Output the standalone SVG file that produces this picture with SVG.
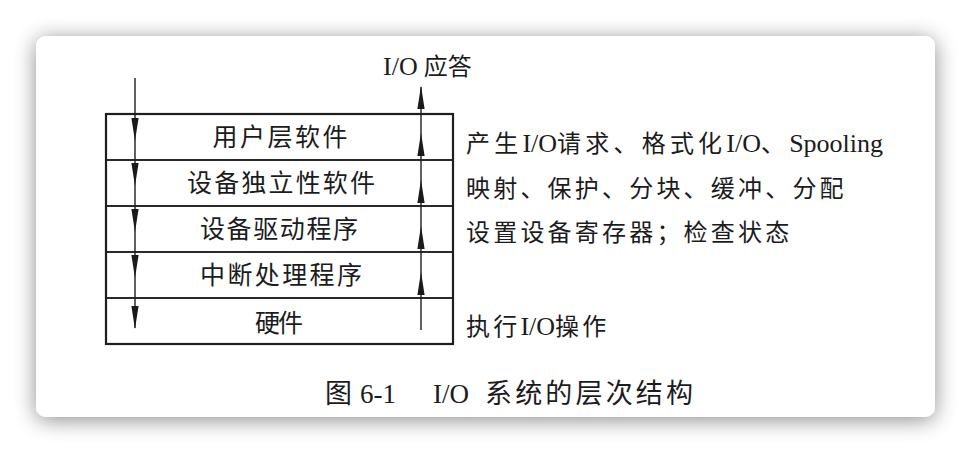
<svg xmlns="http://www.w3.org/2000/svg" width="972" height="454" viewBox="0 0 972 454">
  <defs>
    <filter id="shadow" x="-10%" y="-20%" width="120%" height="140%">
      <feGaussianBlur in="SourceAlpha" stdDeviation="11"/>
      <feOffset dx="0" dy="3" result="b"/>
      <feComponentTransfer><feFuncA type="linear" slope="0.45"/></feComponentTransfer>
      <feMerge><feMergeNode/><feMergeNode in="SourceGraphic"/></feMerge>
    </filter>
    <path id="headDown" d="M0,0 L-3.6,-23 L3.6,-23 Z"/>
    <path id="headUp" d="M0,0 L-3.6,23 L3.6,23 Z"/>
    <style>
      .row { fill: none; stroke: #222; stroke-width: 1.6; }
      .frame { fill: none; stroke: #1e1e1e; stroke-width: 2.2; }
      .t { font-family: "Liberation Serif", "Noto Sans CJK SC", serif; fill: #1c1c1c; }
      .lbl { font-size: 25px; text-anchor: middle; }
      .note { font-size: 24px; }
      .cj { letter-spacing: 3.2px; }
      .cj2 { letter-spacing: 4.2px; }
      .la { font-size: 26px; }
      .cap { font-size: 27px; }
      .wire { stroke: #1e1e1e; stroke-width: 1.4; fill: none; }
      .head { fill: #1a1a1a; }
    </style>
  </defs>
  <rect x="0" y="0" width="972" height="454" fill="#ffffff"/>
  <rect x="36" y="36" width="899" height="381" rx="10" ry="10" fill="#ffffff" filter="url(#shadow)"/>

  <g id="layers">
    <g id="user-software">
      <rect class="row" x="106" y="114" width="347" height="46"/>
      <text class="t lbl" x="280" y="146" textLength="135" lengthAdjust="spacing">用户层软件</text>
    </g>
    <g id="device-independent-software">
      <rect class="row" x="106" y="160" width="347" height="46"/>
      <text class="t lbl" x="281" y="192" textLength="188" lengthAdjust="spacing">设备独立性软件</text>
    </g>
    <g id="device-driver">
      <rect class="row" x="106" y="206" width="347" height="46"/>
      <text class="t lbl" x="279" y="238" textLength="158" lengthAdjust="spacing">设备驱动程序</text>
    </g>
    <g id="interrupt-handler">
      <rect class="row" x="106" y="252" width="347" height="46"/>
      <text class="t lbl" x="281" y="284" textLength="162" lengthAdjust="spacing">中断处理程序</text>
    </g>
    <g id="hardware">
      <rect class="row" x="106" y="298" width="347" height="46"/>
      <text class="t lbl" x="279" y="332" textLength="48" lengthAdjust="spacing">硬件</text>
    </g>
    <rect class="frame" x="106" y="114" width="347" height="230"/>
  </g>

  <g id="connectors">
    <line class="wire" x1="135" y1="78" x2="135" y2="328"/>
    <use href="#headDown" class="head" x="135" y="141"/>
    <use href="#headDown" class="head" x="135" y="186"/>
    <use href="#headDown" class="head" x="135" y="232"/>
    <use href="#headDown" class="head" x="135" y="278"/>
    <use href="#headDown" class="head" x="135" y="329"/>

    <line class="wire" x1="421" y1="87" x2="421" y2="330"/>
    <use href="#headUp" class="head" x="421" y="86"/>
    <use href="#headUp" class="head" x="421" y="133"/>
    <use href="#headUp" class="head" x="421" y="180"/>
    <use href="#headUp" class="head" x="421" y="226"/>
    <use href="#headUp" class="head" x="421" y="272"/>
  </g>

  <g id="annotations">
    <text class="t note" x="383" y="75"><tspan class="la">I/O</tspan> 应答</text>
    <text class="t note" x="466" y="152"><tspan class="cj2">产生</tspan><tspan class="la">I/O</tspan><tspan class="cj2">请求、格式化</tspan><tspan class="la">I/O</tspan><tspan class="cj2">、</tspan><tspan class="la">Spooling</tspan></text>
    <text class="t note cj" x="466" y="197">映射、保护、分块、缓冲、分配</text>
    <text class="t note cj" x="466" y="241">设置设备寄存器；检查状态</text>
    <text class="t note" x="466" y="335"><tspan class="cj">执行</tspan><tspan class="la">I/O</tspan><tspan class="cj">操作</tspan></text>
  </g>

  <g id="caption">
    <text class="t cap" x="325" y="403">图</text>
    <text class="t cap" x="360" y="403">6-1</text>
    <text class="t cap" x="433" y="403">I/O</text>
    <text class="t cap" x="485" y="403" textLength="208" lengthAdjust="spacing">系统的层次结构</text>
  </g>
</svg>
